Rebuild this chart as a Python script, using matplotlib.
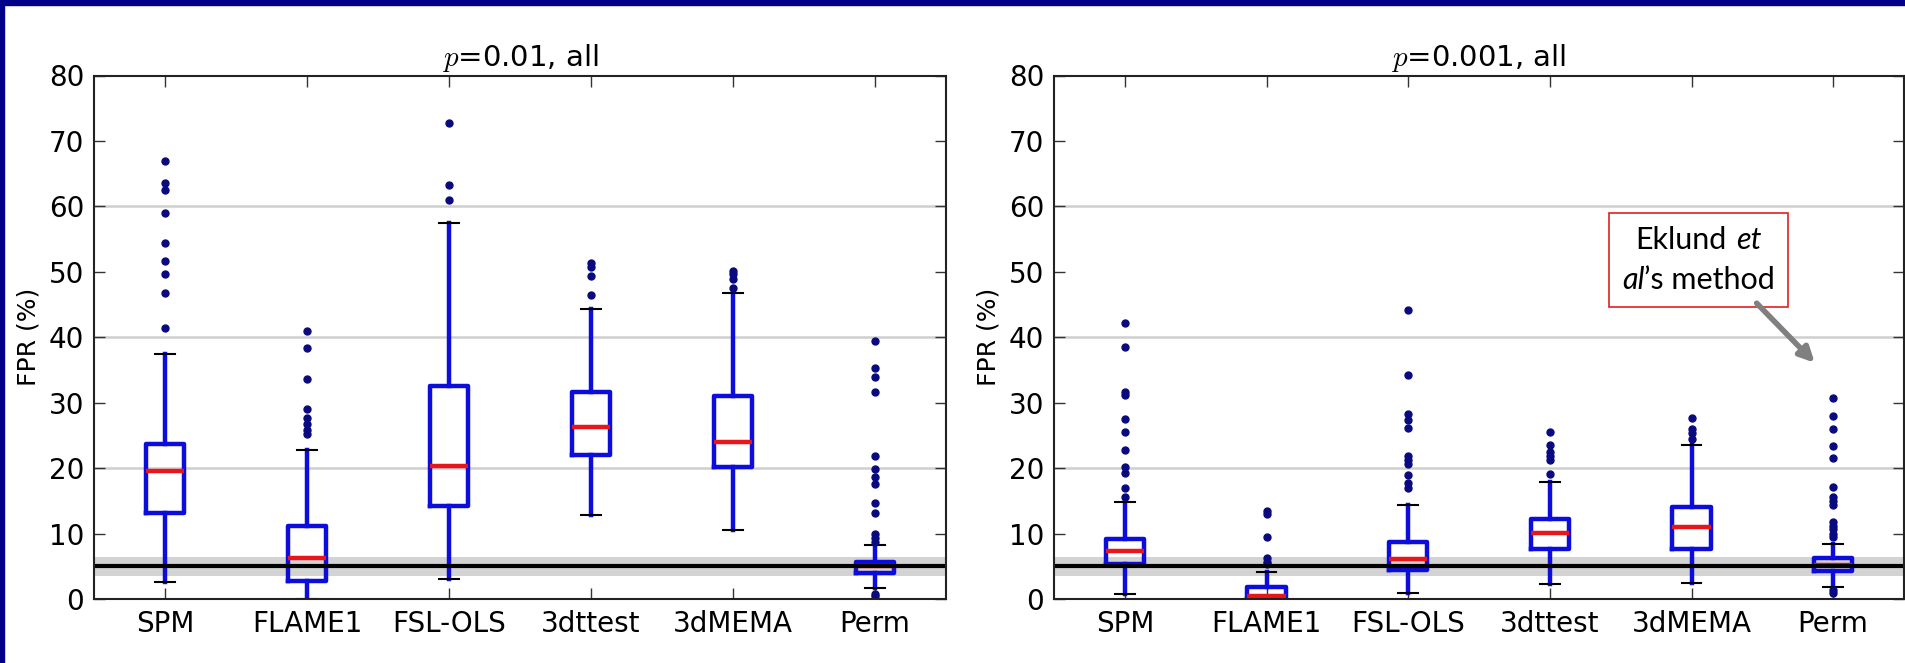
import numpy as np
import matplotlib
matplotlib.use("Agg")
import matplotlib.pyplot as plt
from matplotlib.patches import Rectangle
from matplotlib.offsetbox import TextArea, HPacker, VPacker, AnnotationBbox

plt.rcParams['mathtext.fontset'] = 'cm'

methods = ["SPM", "FLAME1", "FSL-OLS", "3dttest", "3dMEMA", "Perm"]
titles = ["$p$=0.01, all", "$p$=0.001, all"]

# p = 0.01 panel (FPR %)
med_01 = [19.5, 6.3, 20.3, 26.3, 24.0, 5.0]
q1_01 = [13.2, 2.7, 14.2, 22.0, 20.2, 3.9]
q3_01 = [23.7, 11.1, 32.5, 31.7, 31.0, 5.7]
lo_01 = [2.6, 0.0, 3.1, 12.9, 10.5, 1.7]
hi_01 = [37.5, 22.7, 57.4, 44.3, 46.7, 8.3]
out_01 = [
    [66.9, 63.6, 62.5, 59.0, 54.4, 51.6, 49.6, 46.8, 41.4],
    [40.9, 38.4, 33.6, 29.0, 27.6, 26.7, 25.9, 25.2],
    [72.8, 63.3, 60.9],
    [51.3, 50.8, 49.4, 46.5],
    [50.2, 49.6, 48.9, 47.5],
    [39.4, 35.3, 34.0, 31.6, 21.9, 19.9, 18.6, 17.5, 14.7, 13.2, 9.9, 9.3, 8.7, 0.8, 0.5],
]

# p = 0.001 panel (FPR %)
med_001 = [7.4, 0.5, 6.1, 10.1, 11.0, 5.2]
q1_001 = [5.4, 0.0, 4.4, 7.7, 7.6, 4.3]
q3_001 = [9.1, 1.9, 8.7, 12.3, 14.0, 6.2]
lo_001 = [0.7, 0.0, 0.9, 2.3, 2.4, 1.9]
hi_001 = [14.8, 4.1, 14.4, 17.9, 23.5, 8.4]
out_001 = [
    [42.2, 38.5, 31.7, 31.2, 27.5, 25.5, 22.8, 20.1, 19.3, 17.0, 15.6],
    [13.5, 13.0, 9.5, 6.3, 5.7, 5.4],
    [44.1, 34.2, 28.2, 27.4, 26.1, 21.9, 21.3, 20.7, 18.9, 17.8, 17.0],
    [25.5, 23.5, 22.4, 21.8, 21.2, 19.1],
    [27.6, 26.0, 25.3, 24.4],
    [30.7, 28.0, 26.0, 23.4, 21.6, 17.1, 15.6, 15.0, 14.4, 11.7, 11.2, 10.7, 9.9, 9.4, 1.3, 0.9],
]

nominal = 5.0
ci_low, ci_high = 3.5, 6.4

panels = [
    (med_01, q1_01, q3_01, lo_01, hi_01, out_01),
    (med_001, q1_001, q3_001, lo_001, hi_001, out_001),
]

fig = plt.figure(figsize=(19.05, 6.63), dpi=100)
fig.patch.set_facecolor('white')
ax_left = fig.add_axes([94 / 1905, 64 / 663, 852 / 1905, 523.5 / 663])
ax_right = fig.add_axes([1054 / 1905, 64 / 663, 850 / 1905, 523.5 / 663])

box_blue = '#0c0cdc'
for ax, title, (med, q1, q3, lo, hi, out) in zip([ax_left, ax_right], titles, panels):
    stats = []
    for i in range(len(methods)):
        stats.append(dict(med=med[i], q1=q1[i], q3=q3[i], whislo=lo[i],
                          whishi=hi[i], fliers=out[i], label=methods[i]))
    ax.axhspan(ci_low, ci_high, color='#d3d3d3', zorder=0.5, lw=0)
    for g in [20, 40, 60]:
        ax.axhline(g, color='#cfcfcf', lw=1.8, zorder=0.6)
    ax.bxp(stats, widths=0.27, capwidths=0.14,
           boxprops=dict(color=box_blue, lw=3.2),
           whiskerprops=dict(color=box_blue, lw=3.2, linestyle='-'),
           capprops=dict(color='black', lw=1.5),
           medianprops=dict(color='#e8161b', lw=3.2),
           flierprops=dict(marker='o', markerfacecolor='#0a0a80',
                           markeredgecolor='#0a0a80', markersize=5))
    ax.axhline(nominal, color='black', lw=3.0, zorder=2.5)
    ax.set_xlim(0.5, 6.5)
    ax.set_ylim(0, 80)
    ax.set_yticks(np.arange(0, 81, 10))
    ax.tick_params(direction='in', top=True, right=True, length=8, width=1,
                   color='#333333', labelsize=20)
    ax.tick_params(axis='y', pad=7)
    ax.tick_params(axis='x', pad=8)
    for s in ax.spines.values():
        s.set_linewidth(1.5)
        s.set_color('#222222')
    ax.set_title(title, fontsize=21, pad=7)
    ax.set_ylabel("FPR (%)", fontsize=18, labelpad=6)

# annotation on the right panel
fs = 22
line1 = HPacker(children=[TextArea("Eklund", textprops=dict(family='Lato', size=fs)),
                          TextArea("et", textprops=dict(family='Lato', size=fs, style='italic'))],
                align='baseline', pad=0, sep=7)
line2 = HPacker(children=[TextArea("al", textprops=dict(family='Lato', size=fs, style='italic')),
                          TextArea("\u2019s method", textprops=dict(family='Lato', size=fs))],
                align='baseline', pad=0, sep=0)
box = VPacker(children=[line1, line2], align='center', pad=0, sep=9)
ab = AnnotationBbox(box, (5.05, 51.8), xycoords='data', frameon=True, pad=0.9,
                    bboxprops=dict(edgecolor='#e02020', facecolor='white', lw=1.2),
                    zorder=5)
ax_right.add_artist(ab)
ax_right.annotate("", xy=(5.87, 36.1), xytext=(5.46, 45.2),
                  arrowprops=dict(arrowstyle='-|>', color='#808080', lw=4,
                                  mutation_scale=22, shrinkA=0, shrinkB=0),
                  zorder=6)

# dark blue frame at top and left
fig.patches.append(Rectangle((0, 1 - 5 / 663), 1, 5 / 663, transform=fig.transFigure,
                             color='#000088', zorder=10))
fig.patches.append(Rectangle((0, 0), 4 / 1905, 1, transform=fig.transFigure,
                             color='#000088', zorder=10))

fig.savefig('out.png', dpi=100)
